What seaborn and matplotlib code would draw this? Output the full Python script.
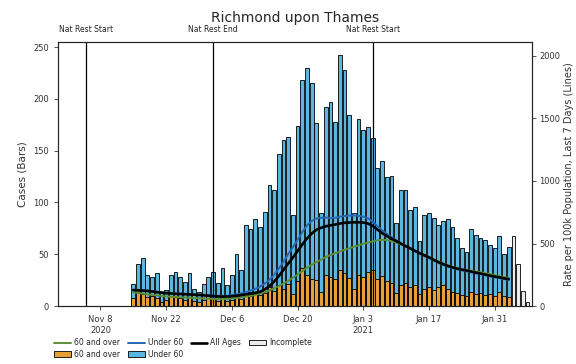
import datetime as dt
import matplotlib
matplotlib.use("Agg")
import matplotlib.pyplot as plt
import matplotlib.dates as mdates
from matplotlib.lines import Line2D
from matplotlib.patches import Patch
import pandas as pd
import seaborn as sns

# daily cases, first bar on 15 Nov 2020; the last 4 days are incomplete
first_day = dt.date(2020, 11, 15)
cases_total = [21, 41, 46, 30, 28, 32, 13, 16, 30, 33,
               28, 23, 32, 17, 14, 21, 28, 33, 22, 37,
               20, 30, 50, 35, 78, 74, 84, 76, 91, 117,
               112, 147, 160, 163, 88, 174, 218, 230, 215, 177,
               90, 192, 197, 178, 242, 228, 184, 90, 181, 170,
               173, 162, 133, 140, 125, 126, 80, 112, 112, 93,
               96, 63, 88, 90, 85, 78, 82, 84, 76, 66,
               56, 52, 74, 69, 66, 64, 59, 56, 68, 50,
               57, 68, 41, 15, 4]
cases_60_plus = [8, 14, 12, 9, 10, 8, 4, 6, 10, 9, 8,
                 6, 9, 5, 4, 6, 8, 7, 5, 9, 5,
                 6, 10, 7, 12, 10, 14, 11, 13, 18, 15,
                 20, 17, 21, 12, 24, 37, 30, 26, 25, 14,
                 30, 28, 26, 35, 32, 27, 17, 30, 28, 33,
                 35, 26, 29, 24, 22, 13, 20, 22, 18, 20,
                 12, 17, 18, 16, 18, 20, 17, 14, 13, 11,
                 10, 14, 12, 13, 11, 12, 10, 14, 10, 9]
n_complete = 81

# 7 day rate per 100k (right axis)
rate_all = [128, 126, 124, 121, 117, 112, 108, 104, 101, 99,
            97, 95, 93, 91, 89, 86, 83, 80, 77, 76,
            77, 79, 83, 88, 94, 100, 106, 114, 134, 160,
            196, 240, 290, 340, 388, 440, 492, 540, 580, 610,
            626, 638, 645, 652, 660, 666, 668, 670, 670, 668,
            660, 642, 612, 584, 560, 540, 520, 500, 480, 462,
            442, 424, 406, 390, 370, 352, 336, 322, 310, 300,
            292, 285, 276, 268, 260, 252, 244, 236, 230, 222, 216]
rate_under_60 = [132, 130, 128, 125, 121, 116, 112, 108, 105, 103,
                 101, 99, 97, 95, 93, 90, 87, 84, 82, 82,
                 84, 88, 94, 102, 112, 124, 138, 156, 180, 210,
                 250, 300, 355, 415, 470, 530, 590, 645, 680, 700,
                 706, 708, 704, 706, 714, 720, 724, 725, 722, 716,
                 702, 676, 640, 606, 578, 552, 528, 505, 482, 460,
                 440, 420, 402, 384, 364, 346, 330, 316, 304, 294,
                 286, 278, 270, 262, 254, 246, 238, 230, 224, 216, 210]
rate_60_plus = [110, 106, 100, 95, 90, 86, 82, 78, 75, 73,
                71, 69, 67, 65, 63, 61, 59, 57, 56, 56,
                58, 61, 65, 70, 76, 82, 90, 100, 112, 126,
                142, 160, 180, 202, 226, 252, 280, 306, 330, 352,
                372, 392, 408, 422, 436, 450, 462, 474, 486, 498,
                508, 518, 526, 530, 528, 520, 508, 494, 478, 460,
                442, 426, 408, 390, 372, 356, 340, 326, 314, 304,
                296, 288, 282, 276, 270, 264, 256, 248, 240, 232, 226]

restriction_dates = ["2020-11-05", "2020-12-02", "2021-01-05"]
restriction_labels = ["Nat Rest Start", "Nat Rest End", "Nat Rest Start"]
tick_dates = ["2020-11-08", "2020-11-22", "2020-12-06", "2020-12-20",
              "2021-01-03", "2021-01-17", "2021-01-31"]
tick_labels = ["Nov 8\n2020", "Nov 22", "Dec 6", "Dec 20",
               "Jan 3\n2021", "Jan 17", "Jan 31"]

orange = "#E8A035"
sky = "#5BB7DF"
green_line = "#5C8F35"
blue_line = "#2468B4"
incomplete = "#ececec"

days = pd.date_range(first_day, periods=len(cases_total))
xnum = mdates.date2num(days)

done = pd.DataFrame({"x": xnum[:n_complete],
                     "total": cases_total[:n_complete],
                     "old": cases_60_plus})
partial = pd.DataFrame({"x": xnum[n_complete:],
                        "total": cases_total[n_complete:]})
rates = pd.DataFrame({"x": xnum[:n_complete], "all": rate_all,
                      "young": rate_under_60, "old": rate_60_plus})

sns.set_style("ticks")
plt.rcParams["font.family"] = ["DejaVu Sans"]

fig = plt.figure(figsize=(5.76, 3.64), dpi=100)
ax = fig.add_subplot(111)
fig.subplots_adjust(left=0.101, right=0.924, top=0.885, bottom=0.159)

bar_kw = dict(native_scale=True, orient="x", errorbar=None, saturation=1,
              edgecolor="black", linewidth=0.6, width=0.8, ax=ax)
sns.barplot(data=done, x="x", y="total", color=sky, **bar_kw)
sns.barplot(data=done, x="x", y="old", color=orange, **bar_kw)
sns.barplot(data=partial, x="x", y="total", color=incomplete, **bar_kw)

for d, lab in zip(restriction_dates, restriction_labels):
    xd = mdates.date2num(pd.Timestamp(d))
    ax.axvline(xd, color="black", lw=0.9)
    ax.text(xd, 1.03, lab, transform=ax.get_xaxis_transform(),
            ha="center", va="bottom", fontsize=5.5, color="#222222")

ax.set_ylim(0, 255)
ax.set_yticks([0, 50, 100, 150, 200, 250])
ax.set_xlim(mdates.date2num(pd.Timestamp("2020-10-30")),
            mdates.date2num(pd.Timestamp("2021-02-08")))
ax.set_xticks(mdates.date2num(pd.to_datetime(tick_dates)))
ax.set_xticklabels(tick_labels)
ax.set_xlabel("")
ax.set_ylabel("Cases (Bars)", fontsize=7.5, color="#333333")
ax.tick_params(labelsize=6, colors="#333333", length=3, width=0.6)

ax2 = ax.twinx()
sns.lineplot(data=rates, x="x", y="old", color=green_line, lw=1.4, ax=ax2)
sns.lineplot(data=rates, x="x", y="young", color=blue_line, lw=1.4, ax=ax2)
sns.lineplot(data=rates, x="x", y="all", color="black", lw=1.9, ax=ax2)
ax2.set_ylim(0, 2112)
ax2.set_yticks([0, 500, 1000, 1500, 2000])
ax2.set_xlim(ax.get_xlim())
ax2.set_xlabel("")
ax2.set_ylabel("Rate per 100k Population, Last 7 Days (Lines)",
               fontsize=7, color="#333333", labelpad=3)
ax2.tick_params(labelsize=6, colors="#333333", length=3, width=0.6, pad=2)

for a in (ax, ax2):
    for s in a.spines.values():
        s.set_linewidth(0.8)

ax.set_title("Richmond upon Thames", fontsize=10, pad=14)

handles = [Line2D([], [], color=green_line, lw=1.4),
           Patch(facecolor=orange, edgecolor="black", lw=0.6),
           Line2D([], [], color=blue_line, lw=1.4),
           Patch(facecolor=sky, edgecolor="black", lw=0.6),
           Line2D([], [], color="black", lw=1.9),
           Patch(facecolor=incomplete, edgecolor="black", lw=0.6)]
labels = ["60 and over", "60 and over", "Under 60", "Under 60",
          "All Ages", "Incomplete"]
fig.legend(handles, labels, ncol=4, loc="upper left",
           bbox_to_anchor=(0.085, 0.085), frameon=False, fontsize=5.5,
           handlelength=2.2, columnspacing=1.0, handletextpad=0.4,
           labelspacing=0.3, borderpad=0.2)

fig.savefig("out.png", dpi=100)
